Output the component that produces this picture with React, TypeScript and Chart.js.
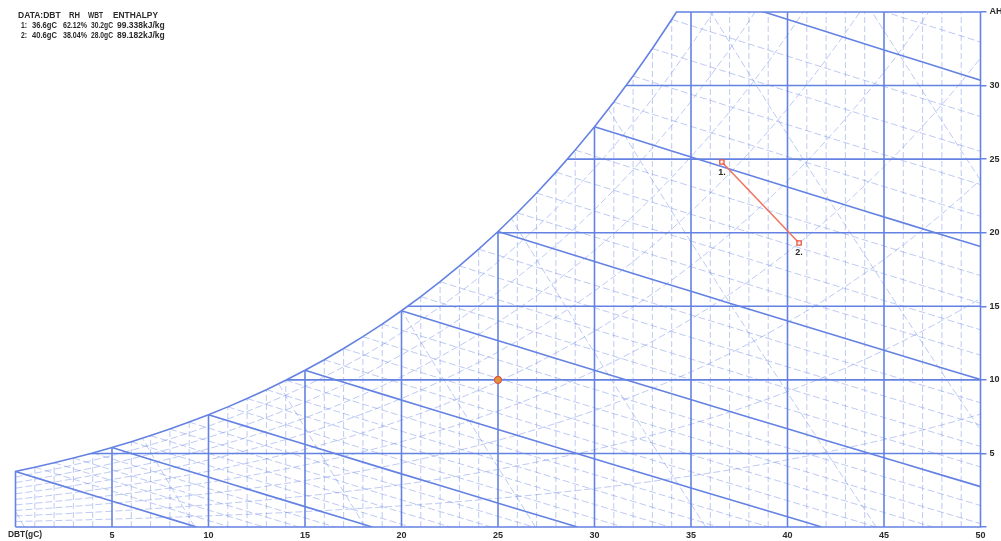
import React, { useEffect, useRef } from 'react';
import { Chart, registerables } from 'chart.js';

Chart.register(...registerables);

// ---- axis / tick data ----
const dbtTicks = [5, 10, 15, 20, 25, 30, 35, 40, 45, 50];
const ahTicks = [0, 5, 10, 15, 20, 25, 30, 35];
const dbtMin = 0;
const dbtMax = 50;
const ahMin = 0;
const ahMax = 35;

// ---- psychrometric reference table: saturation vapour pressure (kPa) at 0..50 °C ----
const satTemps = [
  0, 1, 2, 3, 4, 5, 6, 7, 8, 9, 10, 11, 12, 13, 14, 15, 16, 17, 18, 19, 20, 21, 22, 23, 24, 25,
  26, 27, 28, 29, 30, 31, 32, 33, 34, 35, 36, 37, 38, 39, 40, 41, 42, 43, 44, 45, 46, 47, 48, 49, 50,
];
const satPressureKPa = [
  0.6112, 0.6571, 0.706, 0.758, 0.8135, 0.8725, 0.9353, 1.002, 1.0729, 1.1481, 1.228, 1.3128,
  1.4026, 1.4979, 1.5987, 1.7055, 1.8185, 1.938, 2.0643, 2.1979, 2.3389, 2.4878, 2.6448, 2.8105,
  2.9852, 3.1693, 3.3633, 3.5674, 3.7823, 4.0084, 4.2462, 4.4961, 4.7586, 5.0345, 5.3242, 5.628,
  5.9468, 6.2812, 6.6315, 6.9987, 7.3838, 7.7866, 8.2081, 8.6495, 9.111, 9.5935, 10.098, 10.624,
  11.173, 11.747, 12.344,
];
const atmPressureKPa = 101.325;

// ---- grid-line families ----
const thickDbtLines = [5, 10, 15, 20, 25, 30, 35, 40, 45];
const thinDbtLines = [
  1, 2, 3, 4, 6, 7, 8, 9, 11, 12, 13, 14, 16, 17, 18, 19, 21, 22, 23, 24, 26, 27, 28, 29, 31, 32,
  33, 34, 36, 37, 38, 39, 41, 42, 43, 44, 46, 47, 48, 49,
];
const thickAhLines = [5, 10, 15, 20, 25, 30];
const rhLevels = [10, 20, 30, 40, 50, 60, 70, 80, 90];
const thickWbLevels = [0, 5, 10, 15, 20, 25, 30, 35];
const thinWbLevels = [
  1, 2, 3, 4, 6, 7, 8, 9, 11, 12, 13, 14, 16, 17, 18, 19, 21, 22, 23, 24, 26, 27, 28, 29, 31, 32,
  33, 34, 36,
];
const volumeLevels = [0.775, 0.8, 0.825, 0.85, 0.875, 0.9, 0.925, 0.95];

// ---- plotted states ----
const stateLabels = ['1.', '2.'];
const stateDbt = [36.6, 40.6];
const stateAh = [24.8, 19.3];
const refDbt = [25];
const refAh = [10];

// ---- text block ----
const headerTokens = ['DATA:DBT', 'RH', 'WBT', 'ENTHALPY'];
const rowIds = ['1:', '2:'];
const rowDbt = ['36.6gC', '40.6gC'];
const rowRh = ['62.12%', '38.04%'];
const rowWbt = ['30.2gC', '28.0gC'];
const rowEnthalpy = ['99.338kJ/kg', '89.182kJ/kg'];
const xAxisTitle = 'DBT(gC)';

const THICK = 'rgb(100,130,226)';
const THIN = 'rgba(110,138,228,0.45)';
const FONT = '"Liberation Sans", "DejaVu Sans", sans-serif';

type Pt = { x: number; y: number };

const humidityFromPw = (pw: number) => (621.945 * pw) / (atmPressureKPa - pw);

function saturationBoundary(): Pt[] {
  const pts: Pt[] = [];
  for (let i = 0; i < satTemps.length; i++) {
    const w = humidityFromPw(satPressureKPa[i]);
    if (w <= ahMax) {
      pts.push({ x: satTemps[i], y: w });
    } else {
      const prev = pts[pts.length - 1];
      const t = prev.x + ((ahMax - prev.y) / (w - prev.y)) * (satTemps[i] - prev.x);
      pts.push({ x: t, y: ahMax });
      break;
    }
  }
  return pts;
}

function rhLine(rh: number): Pt[] {
  const phi = rh / 100;
  return satTemps.map((t, i) => ({ x: t, y: humidityFromPw(phi * satPressureKPa[i]) }));
}

function wbLine(wb: number): Pt[] {
  const ws = humidityFromPw(satPressureKPa[wb]) / 1000;
  const h = 1.006 * wb + ws * (2501 + 1.86 * wb);
  const tEnd = h / 1.006;
  const pts: Pt[] = [];
  for (let t = wb; t < tEnd; t += 2) {
    pts.push({ x: t, y: (1000 * (h - 1.006 * t)) / (2501 + 1.86 * t) });
  }
  pts.push({ x: tEnd, y: 0 });
  return pts;
}

function volumeLine(v: number): Pt[] {
  const pts: Pt[] = [];
  for (let w = 0; w <= ahMax; w += 5) {
    pts.push({ x: (v * atmPressureKPa) / (0.287 * (1 + (1.6078 * w) / 1000)) - 273.15, y: w });
  }
  return pts;
}

function lineDs(data: Pt[], color: string, width: number, dash: number[], satClip: boolean) {
  return {
    data,
    showLine: true,
    pointRadius: 0,
    pointHoverRadius: 0,
    borderColor: color,
    borderWidth: width,
    borderDash: dash,
    backgroundColor: 'transparent',
    fill: false,
    tension: 0,
    satClip,
  } as any;
}

export default function App() {
  const canvasRef = useRef<HTMLCanvasElement | null>(null);

  useEffect(() => {
    document.body.style.margin = '0';
    const canvas = canvasRef.current;
    if (!canvas) return;

    const sat = saturationBoundary();
    const last = sat[sat.length - 1];
    const boundary: Pt[] = [
      { x: dbtMin, y: ahMin },
      ...sat,
      { x: dbtMax, y: ahMax },
      { x: dbtMax, y: ahMin },
      { x: dbtMin, y: ahMin },
    ];
    const clipPoly: Pt[] = [{ x: dbtMin, y: ahMin }, ...sat, { x: dbtMax, y: last.y }, { x: dbtMax, y: ahMin }];

    const datasets: any[] = [];
    datasets.push({
      data: stateDbt.map((t, i) => ({ x: t, y: stateAh[i] })),
      showLine: true,
      borderColor: 'rgb(240,115,95)',
      borderWidth: 1.5,
      pointStyle: 'rect',
      pointRadius: 3,
      pointBorderColor: 'rgb(235,85,65)',
      pointBackgroundColor: 'rgba(255,255,255,0.7)',
      pointBorderWidth: 1.3,
      clip: 6,
    });
    datasets.push({
      data: refDbt.map((t, i) => ({ x: t, y: refAh[i] })),
      showLine: false,
      pointStyle: 'circle',
      pointRadius: 3.5,
      pointBackgroundColor: 'rgb(220,150,60)',
      pointBorderColor: 'rgb(220,85,70)',
      pointBorderWidth: 1.3,
    });
    datasets.push({ ...lineDs(boundary, THICK, 1.6, [], false), clip: 4 });
    thickDbtLines.forEach((t) =>
      datasets.push(lineDs([{ x: t, y: ahMin }, { x: t, y: ahMax }], THICK, 1.6, [], true))
    );
    thickAhLines.forEach((w) =>
      datasets.push(lineDs([{ x: dbtMin, y: w }, { x: dbtMax, y: w }], THICK, 1.6, [], true))
    );
    thickWbLevels.forEach((wb) => datasets.push(lineDs(wbLine(wb), THICK, 1.6, [], true)));
    thinWbLevels.forEach((wb) => datasets.push(lineDs(wbLine(wb), THIN, 1, [7, 3], true)));
    rhLevels.forEach((rh) => datasets.push(lineDs(rhLine(rh), THIN, 1, [7, 3], true)));
    volumeLevels.forEach((v) => datasets.push(lineDs(volumeLine(v), THIN, 1, [7, 3], true)));
    thinDbtLines.forEach((t) =>
      datasets.push(lineDs([{ x: t, y: ahMin }, { x: t, y: ahMax }], THIN, 1, [6, 3], true))
    );

    const clipPlugin = {
      id: 'satClip',
      beforeDatasetDraw(chart: any, args: any) {
        const ds = chart.data.datasets[args.index];
        if (!ds.satClip) return;
        const { ctx } = chart;
        const xs = chart.scales.x;
        const ys = chart.scales.y;
        ctx.save();
        ctx.beginPath();
        clipPoly.forEach((p, i) => {
          const px = xs.getPixelForValue(p.x);
          const py = ys.getPixelForValue(p.y);
          if (i === 0) ctx.moveTo(px, py);
          else ctx.lineTo(px, py);
        });
        ctx.closePath();
        ctx.clip();
      },
      afterDatasetDraw(chart: any, args: any) {
        const ds = chart.data.datasets[args.index];
        if (ds.satClip) chart.ctx.restore();
      },
    };

    const put = (ctx: CanvasRenderingContext2D, s: string, x0: number, x1: number, y: number) => {
      const w = ctx.measureText(s).width;
      const target = x1 - x0;
      ctx.fillText(s, x0, y, w > target ? target : undefined as any);
    };

    const textPlugin = {
      id: 'texts',
      afterDraw(chart: any) {
        const { ctx } = chart;
        const xs = chart.scales.x;
        const ys = chart.scales.y;
        ctx.save();
        ctx.fillStyle = '#2a2a2a';
        ctx.textBaseline = 'middle';
        ctx.textAlign = 'left';
        ctx.font = `bold 8.5px ${FONT}`;
        const hx = [
          [18, 62],
          [69, 80],
          [88, 103],
          [113, 158],
        ];
        headerTokens.forEach((s, i) => put(ctx, s, hx[i][0], hx[i][1], 16));
        rowIds.forEach((id, r) => {
          const y = 26 + r * 10;
          put(ctx, id, 21, 27, y);
          put(ctx, rowDbt[r], 32, 57, y);
          put(ctx, rowRh[r], 63, 87, y);
          put(ctx, rowWbt[r], 91, 113, y);
          put(ctx, rowEnthalpy[r], 117, 180, y);
        });
        ctx.font = `bold 9px ${FONT}`;
        put(ctx, xAxisTitle, 8, 42, 535);
        ctx.textAlign = 'center';
        stateLabels.forEach((s, i) => {
          const px = xs.getPixelForValue(stateDbt[i]);
          const py = ys.getPixelForValue(stateAh[i]);
          ctx.fillText(s, px, py + 10);
        });
        ctx.restore();
      },
    };

    const chart = new Chart(canvas, {
      type: 'scatter',
      data: { datasets },
      options: {
        animation: false,
        responsive: false,
        events: [],
        layout: { padding: { left: 15.5, top: 12, right: 0, bottom: 0 } },
        plugins: { legend: { display: false }, tooltip: { enabled: false } },
        scales: {
          x: {
            type: 'linear',
            min: dbtMin,
            max: dbtMax,
            afterBuildTicks: (s: any) => {
              s.ticks = dbtTicks.map((v) => ({ value: v }));
            },
            afterFit: (s: any) => {
              s.height = 14;
            },
            grid: { display: false, drawTicks: false },
            border: { display: false },
            ticks: {
              autoSkip: false,
              maxRotation: 0,
              padding: 3,
              color: '#2a2a2a',
              font: { size: 9, weight: 'bold', family: FONT },
            },
          },
          y: {
            type: 'linear',
            position: 'right',
            min: ahMin,
            max: ahMax,
            afterBuildTicks: (s: any) => {
              s.ticks = ahTicks.map((v) => ({ value: v }));
            },
            afterFit: (s: any) => {
              s.width = 20.5;
            },
            grid: {
              display: true,
              drawOnChartArea: false,
              drawTicks: true,
              tickLength: 6,
              color: THICK,
              lineWidth: 1.5,
            },
            border: { display: false },
            ticks: {
              padding: 3,
              color: '#2a2a2a',
              font: { size: 9, weight: 'bold', family: FONT },
              callback: (v: any) => (v === ahMax ? 'AH' : v === ahMin ? '' : String(v)),
            },
          },
        },
      } as any,
      plugins: [clipPlugin, textPlugin],
    });

    return () => chart.destroy();
  }, []);

  return (
    <div style={{ position: 'fixed', left: 0, top: 0, width: 1001, height: 541, background: '#fff' }}>
      <canvas ref={canvasRef} width={1001} height={541} style={{ display: 'block' }} />
    </div>
  );
}
